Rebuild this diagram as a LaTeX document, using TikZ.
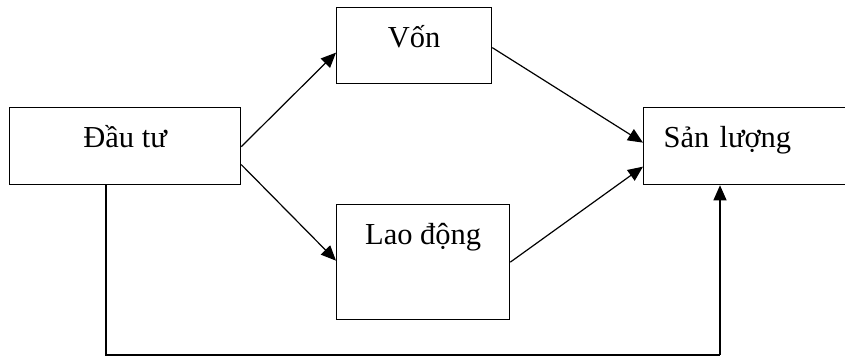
\documentclass[tikz,border=0pt]{standalone}
\usepackage{fontspec}
\setmainfont{Liberation Serif}
\usetikzlibrary{arrows.meta}
\begin{document}
\begin{tikzpicture}[x=1pt,y=-1pt,
  boxnode/.style={draw=black,line width=1.3pt,rectangle,inner xsep=0pt,inner ysep=0pt,
    anchor=north west,font=\fontsize{30.5}{33}\selectfont,text height=40pt},
  conn/.style={line width=1.2pt,-{Triangle[length=15pt,width=13pt]}}]
\useasboundingbox (0,0) rectangle (845,358);
\fill[white] (0,0) rectangle (845,358);
\node[boxnode,minimum width=231pt,text depth=37pt] (dautu) at (9,107) {Đầu tư};
\node[boxnode,minimum width=155pt,text depth=36pt] (von) at (336,7) {Vốn};
\node[boxnode,minimum width=173pt,text depth=75pt] (laodong) at (336,204) {Lao động};
\node[boxnode,minimum width=212pt,text depth=37pt,text width=202pt,align=left] (sanluong) at (643,107) {\hspace*{15pt}Sản lượng};
\coordinate (c1) at (106,355);
\coordinate (c2) at (720,355);
\draw[conn] ([yshift=-18.5pt]dautu.east) -- ([yshift=1.5pt]laodong.west) ;
\draw[conn] ([yshift=-0.5pt]dautu.east) -- ([yshift=-7pt]von.west);
\draw[conn] ([yshift=-2pt]von.east) -- ([yshift=3.5pt]sanluong.west);
\draw[conn] ([yshift=0pt]laodong.east) -- ([yshift=-20.5pt]sanluong.west);
\draw[line width=1.2pt] (dautu.south -| c1) -- (c1) -- (c2);
\draw[conn] (c2) -- (sanluong.south -| c2);
\end{tikzpicture}
\end{document}
